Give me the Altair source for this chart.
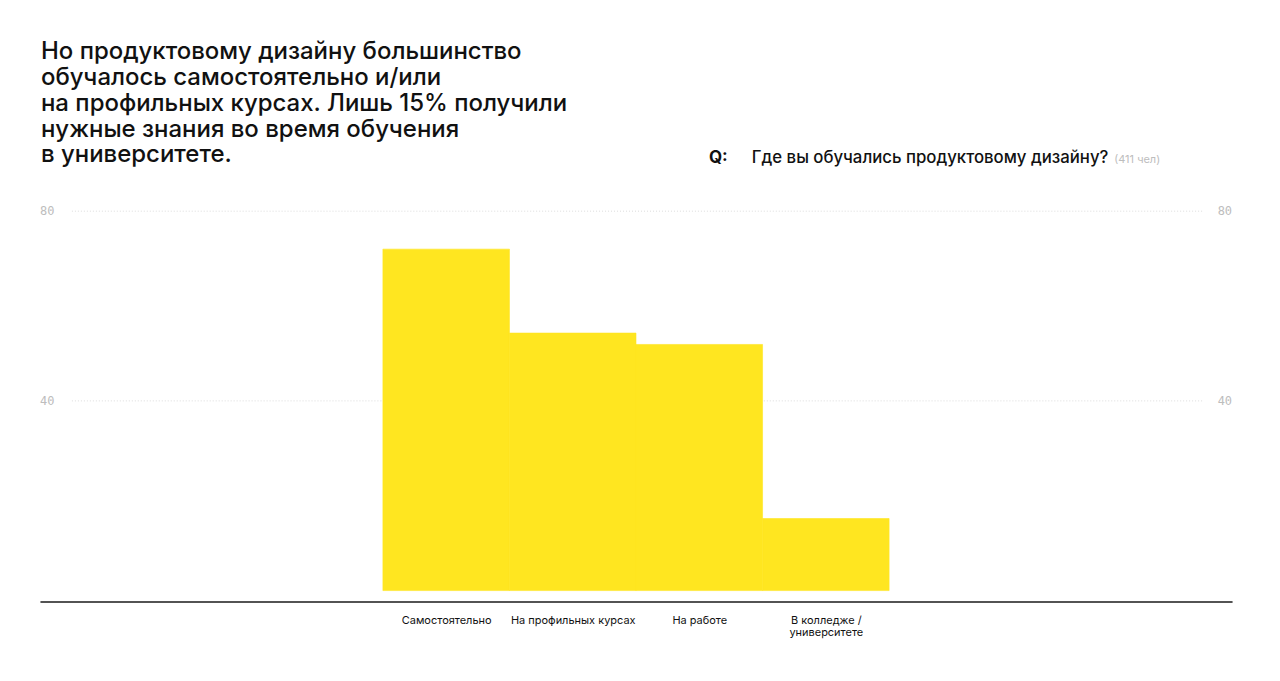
import altair as alt
import pandas as pd
import json

categories = ["Самостоятельно", "На профильных курсах", "На работе", "В колледже /|университете"]
values = [72.0, 54.3, 51.9, 15.2]
grid_values = [40, 80]

title_lines = "Но продуктовому дизайну большинство\nобучалось самостоятельно и/или\nна профильных курсах. Лишь 15% получили\nнужные знания во время обучения\nв университете."
question = "Где вы обучались продуктовому дизайну?"
respondents = "(411 чел)"

W, H = 1194, 380
FONT = "Inter"
YELLOW = "#FFE620"

df = pd.DataFrame({"cat": categories, "val": values,
                   "i0": list(range(len(categories))),
                   "i1": [i + 1 for i in range(len(categories))]})
grid_df = pd.DataFrame({"g": grid_values, "lbl": [str(v) for v in grid_values]})

yscale = alt.Scale(domain=[0, 80], nice=False, zero=True)
xscale = alt.Scale(domain=[-2.71, len(categories) + 2.71], nice=False, zero=False)
cats_js = json.dumps(categories, ensure_ascii=False)

bars = alt.Chart(df).mark_bar(color=YELLOW, stroke=YELLOW, strokeWidth=0.6).encode(
    x=alt.X("i0:Q", scale=xscale, title=None,
            axis=alt.Axis(orient="bottom", domain=True, domainColor="#1a1a1a", domainWidth=1.5,
                          offset=11, ticks=False, labelAngle=0, labelPadding=13,
                          values=[i + 0.5 for i in range(len(categories))],
                          labelFont=FONT, labelFontSize=11, labelColor="#111",
                          labelLineHeight=12, labelFlush=False, labelOverlap=False,
                          labelExpr=f"split({cats_js}[floor(datum.value)], '|')",
                          grid=False)),
    x2="i1:Q",
    y=alt.Y("val:Q", scale=yscale, axis=None),
    y2=alt.datum(0),
)

grid = alt.Chart(grid_df).mark_rule(color="#dcdcdc", strokeDash=[1, 2], strokeWidth=1).encode(
    y=alt.Y("g:Q", scale=yscale, axis=None),
    x=alt.value(32), x2=alt.value(W - 30),
)

left_lbl = alt.Chart(grid_df).mark_text(font="DejaVu Sans Mono", fontSize=12, color="#bdbdbd",
                                        align="left", baseline="middle").encode(
    y=alt.Y("g:Q", scale=yscale, axis=None), x=alt.value(0), text="lbl:N")
right_lbl = alt.Chart(grid_df).mark_text(font="DejaVu Sans Mono", fontSize=12, color="#bdbdbd",
                                         align="right", baseline="middle").encode(
    y=alt.Y("g:Q", scale=yscale, axis=None), x=alt.value(W), text="lbl:N")

annot = pd.DataFrame({"t": [0]})
title_txt = alt.Chart(annot).mark_text(text=title_lines, lineBreak="\n", lineHeight=25.8,
                                       font=FONT, fontSize=24, fontWeight=500, color="#111",
                                       align="left", baseline="alphabetic").encode(
    x=alt.value(1), y=alt.value(-152))
q_lbl = alt.Chart(annot).mark_text(text="Q:", font=FONT, fontSize=17, fontWeight="bold",
                                   color="#111", align="left", baseline="alphabetic").encode(
    x=alt.value(670), y=alt.value(-48))
q_txt = alt.Chart(annot).mark_text(text=question, font=FONT, fontSize=16.8, fontWeight=500,
                                   color="#111", align="left", baseline="alphabetic").encode(
    x=alt.value(713), y=alt.value(-48))
q_n = alt.Chart(annot).mark_text(text=respondents, font=FONT, fontSize=11, color="#bdbdbd",
                                 align="left", baseline="alphabetic").encode(
    x=alt.value(1076), y=alt.value(-48))

chart = alt.layer(grid, left_lbl, right_lbl, bars, title_txt, q_lbl, q_txt, q_n).properties(
    width=W, height=H,
    background="white",
    autosize=alt.AutoSizeParams(type="none"),
    padding={"left": 32, "top": 203, "right": 40, "bottom": 60},
).configure_view(strokeWidth=0, stroke="transparent")

chart.save("out.html", embed_options={"renderer": "svg", "actions": False})
